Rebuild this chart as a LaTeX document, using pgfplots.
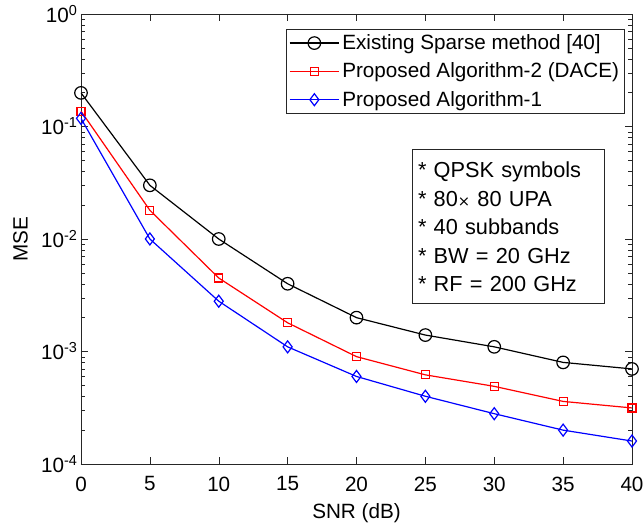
\documentclass[border=0pt]{standalone}
\usepackage{pgfplots}
\pgfplotsset{compat=1.18}
\usepackage{fontspec}
\setmainfont{Liberation Sans}
\begin{document}
\begin{tikzpicture}
\useasboundingbox (-60.75pt,-49.5pt) rectangle (421.5pt,348pt);
\begin{axis}[
  scale only axis,
  width=413.25pt, height=337.5pt,
  ymode=log,
  xmin=0, xmax=40, ymin=1e-4, ymax=1,
  xtick={0,5,...,40},
  ytick={1e-4,1e-3,1e-2,1e-1,1},
  yticklabels={10\textsuperscript{-4},10\textsuperscript{-3},10\textsuperscript{-2},10\textsuperscript{-1},10\textsuperscript{0}},
  /pgf/number format/assume math mode=true,
  tick align=inside,
  tick pos=both,
  axis line style={black!85, line width=0.6pt},
  major tick length=5pt, minor tick length=3pt,
  tick style={black!85},
  font=\fontsize{15.5}{18}\selectfont,
  tick label style={font=\fontsize{15.5}{18}\selectfont},
  xticklabel style={yshift=-6pt},
  yticklabel style={xshift=1pt},
  xlabel={SNR (dB)}, ylabel={MSE},
  xlabel style={yshift=-2.5pt},
  ylabel style={yshift=3pt},
  legend style={at={(rel axis cs:0.987,0.967)}, anchor=north east, draw=black!85, line width=0.6pt,
     font=\fontsize{15.5}{18}\selectfont, inner sep=2pt, row sep=4.5pt, cells={anchor=west}},
  legend image code/.code={
     \draw[mark repeat=2,mark phase=2,#1] plot coordinates {(0cm,0cm) (0.65cm,0cm) (1.3cm,0cm)};},
  every axis plot/.append style={line width=0.9pt},
]
\addplot[black, mark=o, mark size=4.7pt, mark options={line width=0.9pt}] coordinates {
(0,0.199) (5,0.03) (10,0.01) (15,0.004) (20,0.002) (25,0.0014) (30,0.0011) (35,0.0008) (40,0.0007)};
\addlegendentry{Existing Sparse method [40]}
\addplot[red, mark=square, mark size=3pt, mark options={line width=0.9pt}] coordinates {
(0,0.137) (5,0.018) (10,0.0045) (15,0.0018) (20,0.0009) (25,0.00062) (30,0.00049) (35,0.00036) (40,0.000315)};
\addlegendentry{Proposed Algorithm-2 (DACE)}
\addplot[blue, mark=diamond, mark size=4.5pt, mark options={line width=0.9pt}] coordinates {
(0,0.118) (5,0.01) (10,0.0028) (15,0.0011) (20,0.0006) (25,0.0004) (30,0.00028) (35,0.0002) (40,0.00016)};
\addlegendentry{Proposed Algorithm-1}
\node[draw=black!85, line width=0.6pt, fill=white, align=left, inner xsep=4.5pt, text width=135pt,
      minimum height=115.5pt, font=\fontsize{16.3}{21.4}\selectfont]
  at (rel axis cs:0.775,0.527) {* QPSK symbols\\{}* 80{\fontspec{DejaVu Sans}\fontsize{11}{10}\selectfont ×} 80 UPA\\{}* 40 subbands\\{}* BW = 20 GHz\\{}* RF = 200 GHz};
\end{axis}
\end{tikzpicture}
\end{document}
